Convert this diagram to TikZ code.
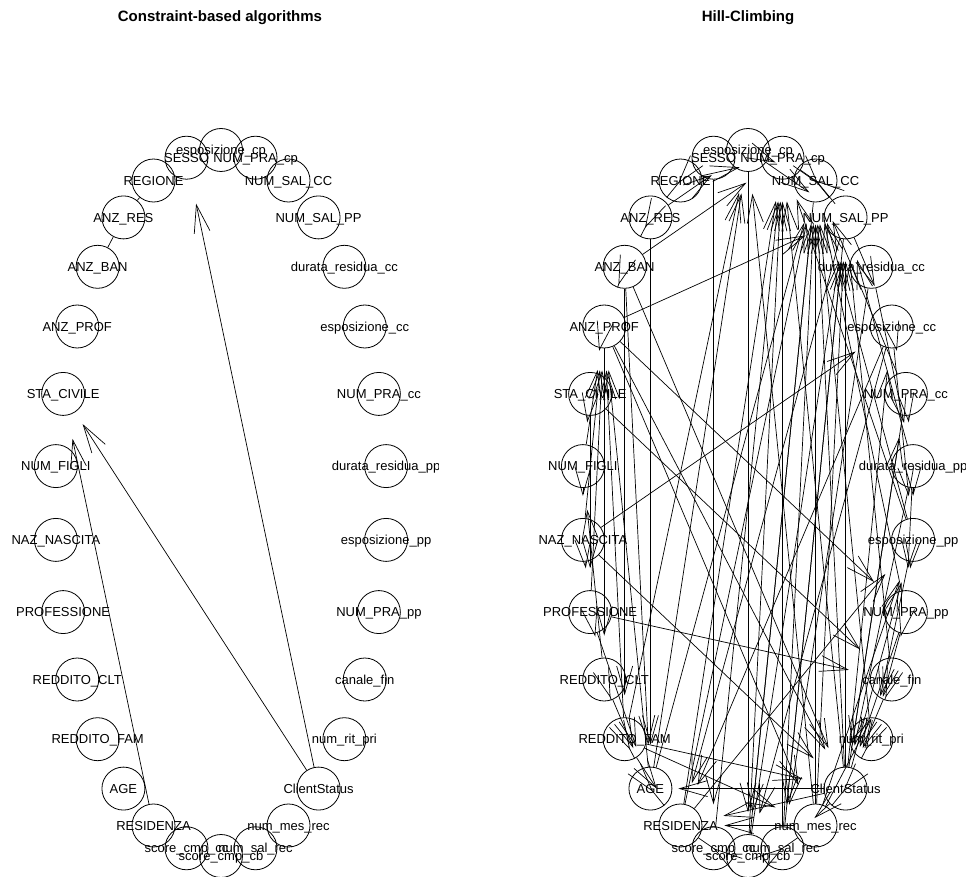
\documentclass[tikz,border=0pt]{standalone}
\usepackage{fontspec}
\setmainfont{Liberation Sans}
\usetikzlibrary{arrows.meta}

% angle / key / printed name of every variable, placed on an ellipse
\def\varlist{90/ecp/esposizione\_cp, 78/NPcp/NUM\_PRA\_cp, 66/NSCC/NUM\_SAL\_CC,
  54/NSPP/NUM\_SAL\_PP, 42/drcc/durata\_residua\_cc, 30/ecc/esposizione\_cc,
  18/NPcc/NUM\_PRA\_cc, 6/drpp/durata\_residua\_pp, -6/epp/esposizione\_pp,
  -18/NPpp/NUM\_PRA\_pp, -30/cfin/canale\_fin, -42/nrp/num\_rit\_pri,
  -54/CS/ClientStatus, -66/nmr/num\_mes\_rec, -78/nsr/num\_sal\_rec,
  -90/scb/score\_cmp\_cb, -102/scc/score\_cmp\_cc, -114/RES/RESIDENZA,
  -126/AGE/AGE, -138/RFAM/REDDITO\_FAM, -150/RCLT/REDDITO\_CLT,
  -162/PROF/PROFESSIONE, -174/NAZ/NAZ\_NASCITA, 174/NFIG/NUM\_FIGLI,
  162/STA/STA\_CIVILE, 150/ANZP/ANZ\_PROF, 138/ANZB/ANZ\_BAN,
  126/ANZR/ANZ\_RES, 114/REG/REGIONE, 102/SES/SESSO}

\begin{document}
\begin{tikzpicture}[x=1pt,y=-1pt,
  vnode/.style={circle,draw,line width=0.8pt,minimum size=43pt,inner sep=0pt},
  lbl/.style={font=\fontsize{13}{13}\selectfont,inner sep=0pt,text height=9.3pt,text depth=0pt},
  ttl/.style={font=\fontsize{15}{15}\selectfont\bfseries,inner sep=0pt},
  arc/.style={line width=0.7pt,
    -{Straight Barb[length=28pt,width=16pt,line width=0.7pt]},shorten >=22pt},
  plain/.style={line width=0.7pt}]
\useasboundingbox (0,0) rectangle (967,877);

\node[ttl] (title-left) at (220,18) {Constraint-based algorithms};
\node[ttl] (title-right) at (748,18) {Hill-Climbing};

% ---------------- left panel ----------------
\begin{scope}
\clip (0,0) rectangle (438,877);
\foreach \a/\k/\t in \varlist {
  \node[vnode,label={[lbl]center:\t}] (L-\k) at ({221+166*cos(\a)},{503-353*sin(\a)}) {};
}
\draw[arc,shorten >=25pt] (L-CS) -- (L-SES);
\draw[arc,shorten >=14pt] (L-CS) -- (L-STA);
\draw[arc,shorten >=24pt] (L-RES) -- (L-STA);
\draw[plain] (L-REG) -- (L-ANZR);
\draw[plain] (L-ANZR) -- (L-ANZB);
\end{scope}

% ---------------- right panel ----------------
\begin{scope}
\clip (527,0) rectangle (965,877);
\foreach \a/\k/\t in \varlist {
  \node[vnode,label={[lbl]center:\t}] (R-\k) at ({748+166*cos(\a)},{503-353*sin(\a)}) {};
}
\foreach \s/\d in {
  ANZR/ecp, REG/NPcp, ANZB/NPcp, AGE/ecp, RES/NPcp, scc/NPcp, scb/NPcp,
  nsr/NPcp, nmr/ecp, CS/NPcp, RFAM/ecp, epp/NPcp,
  NPcp/NSCC, ecp/NSCC, scb/NSCC, nsr/NSCC, nmr/NSCC, CS/NSCC, RES/NSCC, AGE/NSCC,
  nrp/NSCC, NPpp/NSCC, epp/NSCC, NPcc/NSCC,
  ANZP/NSPP, NSCC/NSPP, ecp/NSPP, CS/NSPP, cfin/NSPP, drpp/NSPP, nmr/NSPP,
  scb/NSPP, nsr/NSPP,
  NSPP/ecc, NAZ/ecc, CS/ecc,
  ecc/NPcc, CS/NPcc,
  NPcc/drpp,
  drpp/epp, CS/epp, nmr/epp, RES/epp,
  epp/NPpp, ANZP/NPpp,
  PROF/cfin, NPpp/cfin, STA/cfin, nmr/cfin,
  cfin/nrp,
  RFAM/CS, nrp/CS, cfin/CS, NPpp/CS, ANZP/CS, NAZ/CS, ANZB/CS, NPcc/CS, drpp/CS,
  CS/RES, CS/nmr, CS/nsr,
  RFAM/AGE, RCLT/AGE, ANZB/AGE, ANZR/AGE, PROF/AGE,
  RFAM/RES, AGE/RES, nmr/RES, NSPP/RES, ecc/RES,
  SES/scc, ecp/scb, NSCC/scb, NSPP/nsr, drcc/nsr, ecc/scb, nmr/nsr, RES/scc,
  RFAM/nmr, ANZP/nmr,
  ANZB/ANZP, ANZP/STA, STA/NFIG, NFIG/NAZ, NAZ/PROF, PROF/RCLT, RCLT/RFAM,
  ANZB/RFAM, ANZP/RCLT, STA/PROF, NFIG/ANZP, NAZ/ANZP, AGE/ANZP, RFAM/ANZP,
  REG/ANZR, ANZR/ANZB, RCLT/NFIG, PROF/ANZP,
  drcc/drpp, ecc/epp, drpp/NPpp, NPpp/nrp, epp/nrp} {
  \draw[arc] (R-\s) -- (R-\d);
}
\draw[arc,shorten >=6pt] (R-CS) -- (R-AGE);
\end{scope}
\end{tikzpicture}
\end{document}
